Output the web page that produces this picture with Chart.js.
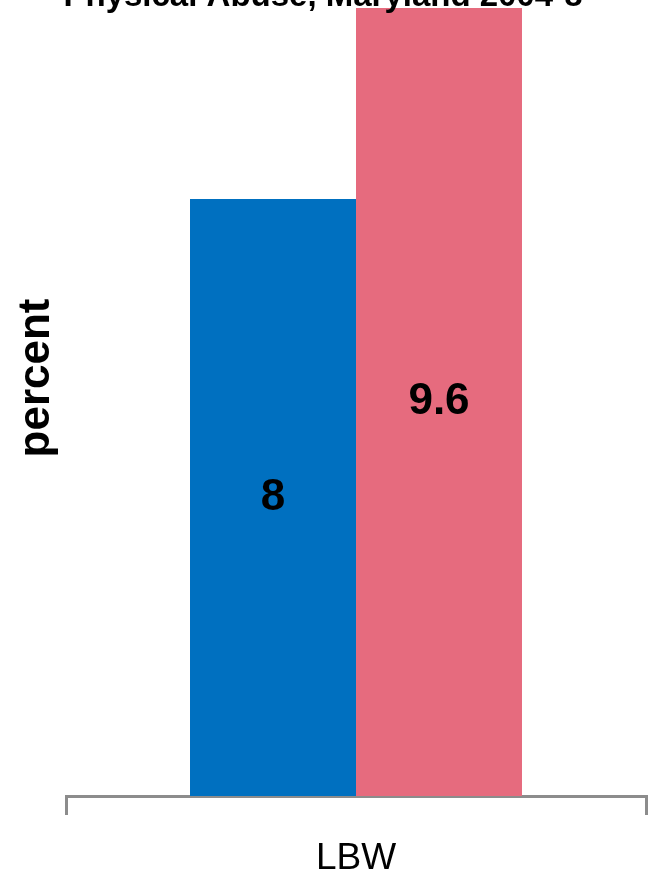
<!DOCTYPE html>
<html>
<head>
<meta charset="utf-8">
<title>LBW and physical abuse</title>
<script src="https://cdn.jsdelivr.net/npm/chart.js@4/dist/chart.umd.min.js"></script>
<style>
    html, body { margin: 0; padding: 0; background: #ffffff; }
    .chart-box { position: relative; width: 650px; height: 875px; }
</style>
</head>
<body>
<div class="chart-box"><canvas id="lbwChart"></canvas></div>
<script>
// ==========================================
// Data
// ==========================================
const categories = ['LBW'];
const seriesNames = ['No physical abuse', 'Physical abuse'];
const noAbuseValues = [8];
const abuseValues = [9.6];
const yRange = [3, 9.6];

const chartTitle = 'Physical Abuse, Maryland 2004-8';
const yTitle = 'percent';

const FONT = "'Liberation Sans', Arial, sans-serif";
const BLUE = '#0070C0';
const PINK = '#E66B7E';
const AXIS_GREY = '#8C8C8C';

// Value written in the middle of the visible part of each bar
const barValuePlugin = {
    id: 'barValues',
    afterDatasetsDraw: function(chart) {
        const ctx = chart.ctx;
        const bottom = chart.chartArea.bottom;
        ctx.save();
        ctx.font = `bold 44px ${FONT}`;
        ctx.fillStyle = '#000000';
        ctx.textAlign = 'center';
        ctx.textBaseline = 'middle';
        chart.data.datasets.forEach((ds, i) => {
            chart.getDatasetMeta(i).data.forEach((bar, j) => {
                const base = Math.min(bar.base, bottom);
                ctx.fillText(String(ds.data[j]), bar.x, (bar.y + base) / 2);
            });
        });
        ctx.restore();
    }
};

// Heading (runs off the top edge) and rotated y-axis title
const headingPlugin = {
    id: 'headings',
    afterDraw: function(chart) {
        const ctx = chart.ctx;
        ctx.save();
        ctx.fillStyle = '#000000';
        ctx.textAlign = 'center';
        ctx.textBaseline = 'alphabetic';
        ctx.font = `bold 33px ${FONT}`;
        ctx.fillText(chartTitle, 323, 6);

        ctx.translate(37, 378);
        ctx.rotate(-Math.PI / 2);
        ctx.textBaseline = 'middle';
        ctx.font = `bold 44px ${FONT}`;
        ctx.fillText(yTitle, 0, 0);
        ctx.restore();
    }
};

new Chart(document.getElementById('lbwChart'), {
    type: 'bar',
    data: {
        labels: categories,
        datasets: [
            { label: seriesNames[0], data: noAbuseValues, backgroundColor: BLUE },
            { label: seriesNames[1], data: abuseValues, backgroundColor: PINK }
        ]
    },
    options: {
        responsive: true,
        maintainAspectRatio: false,
        animation: false,
        datasets: {
            bar: { categoryPercentage: 0.5724, barPercentage: 1.0, borderWidth: 0 }
        },
        layout: {
            padding: { top: 8, left: 66, right: 4, bottom: -27 }
        },
        plugins: {
            legend: { display: false },
            title: { display: false },
            tooltip: { enabled: false }
        },
        scales: {
            x: {
                grid: {
                    offset: true,
                    drawOnChartArea: false,
                    drawTicks: true,
                    tickLength: 19,
                    color: AXIS_GREY,
                    lineWidth: 3
                },
                border: { display: true, color: AXIS_GREY, width: 3 },
                ticks: {
                    color: '#000000',
                    padding: 25,
                    font: { family: FONT, size: 37, lineHeight: 1 }
                }
            },
            y: {
                display: false,
                beginAtZero: false,
                min: yRange[0],
                max: yRange[1]
            }
        }
    },
    plugins: [barValuePlugin, headingPlugin]
});
</script>
</body>
</html>
